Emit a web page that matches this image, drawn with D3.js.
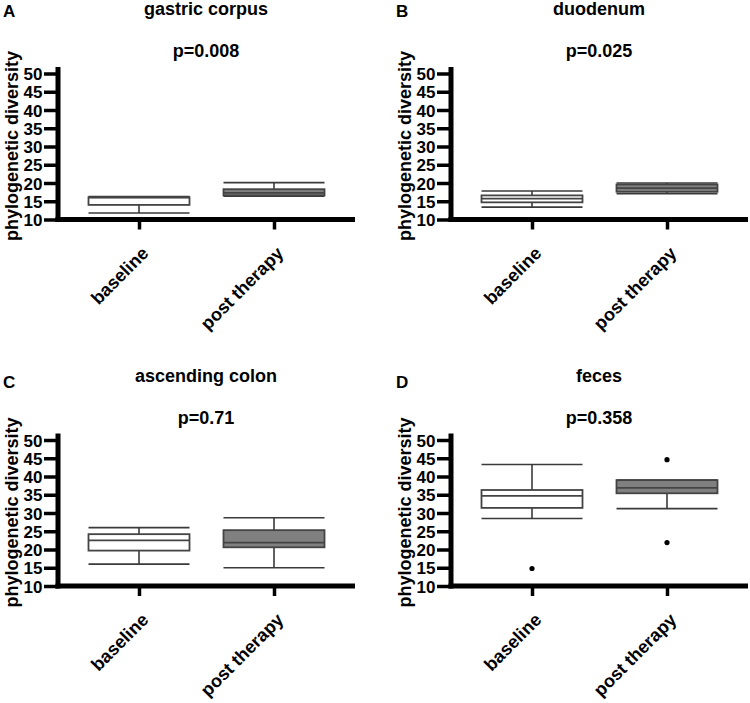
<!DOCTYPE html>
<html>
<head>
<meta charset="utf-8">
<script src="https://cdn.jsdelivr.net/npm/d3@7"></script>
<style>
  body { margin: 0; background: #fff; }
  text { font-family: Arial, "Liberation Sans", sans-serif; font-weight: bold; fill: #000; }
</style>
</head>
<body>
<div id="chart"></div>
<script>
const groups = ["baseline", "post therapy"];
const yTicks = [10, 15, 20, 25, 30, 35, 40, 45, 50];
const panelLetters = ["A", "B", "C", "D"];
const sites = ["gastric corpus", "duodenum", "ascending colon", "feces"];
const pLabels = ["p=0.008", "p=0.025", "p=0.71", "p=0.358"];

// [min, q1, median, q3, max] per panel
const baselineStats = [
    [11.8, 14.0, 16.0, 16.1, 16.3],
    [13.4, 14.7, 15.7, 16.6, 17.8],
    [16.0, 19.7, 22.5, 24.2, 26.0],
    [28.5, 31.4, 34.7, 36.3, 43.3]
];
const postStats = [
    [16.4, 16.6, 17.3, 18.3, 20.1],
    [17.1, 17.6, 18.6, 19.6, 20.0],
    [15.0, 20.6, 21.9, 25.3, 28.7],
    [31.2, 35.4, 36.9, 39.0, 39.0]
];
const baselineOutliers = [[], [], [], [14.8]];
const postOutliers = [[], [], [], [44.6, 21.9]];

const fills = { "baseline": "#ffffff", "post therapy": "#808080" };

const width = 750, height = 703;
const svg = d3.select("#chart").append("svg")
    .attr("width", width)
    .attr("height", height);

const offsets = [[0, 0], [393, 0], [0, 366.5], [393, 366.5]];
const letterY = [17, 17, 388, 388];

const x = d3.scalePoint().domain(groups).range([58, 355]).padding(0.6);
const y = d3.scaleLinear().domain([10, 50]).range([219.5, 73.5]);
const boxW = 101;

panelLetters.forEach((letter, i) => {
    const [ox, oy] = offsets[i];
    const g = svg.append("g").attr("transform", `translate(${ox},${oy})`);

    svg.append("text")
        .attr("x", ox + 3)
        .attr("y", letterY[i])
        .style("font-size", "17px")
        .text(letter);

    g.append("text")
        .attr("x", 206).attr("y", 15)
        .attr("text-anchor", "middle")
        .style("font-size", "18px")
        .text(sites[i]);

    g.append("text")
        .attr("x", 206).attr("y", 57)
        .attr("text-anchor", "middle")
        .style("font-size", "18px")
        .text(pLabels[i]);

    g.append("text")
        .attr("transform", `translate(17.5,146) rotate(-90)`)
        .attr("text-anchor", "middle")
        .style("font-size", "18px")
        .text("phylogenetic diversity");

    // boxes
    const stats = [baselineStats[i], postStats[i]];
    const outs = [baselineOutliers[i], postOutliers[i]];
    groups.forEach((grp, k) => {
        const s = stats[k];
        const cx = x(grp);
        const bg = g.append("g");
        bg.append("line")
            .attr("x1", cx).attr("x2", cx)
            .attr("y1", y(s[0])).attr("y2", y(s[4]))
            .attr("stroke", "#3a3a3a").attr("stroke-width", 1.6);
        [s[0], s[4]].forEach(v => {
            bg.append("line")
                .attr("x1", cx - boxW / 2).attr("x2", cx + boxW / 2)
                .attr("y1", y(v)).attr("y2", y(v))
                .attr("stroke", "#3a3a3a").attr("stroke-width", 1.6);
        });
        bg.append("rect")
            .attr("x", cx - boxW / 2)
            .attr("y", y(s[3]))
            .attr("width", boxW)
            .attr("height", y(s[1]) - y(s[3]))
            .attr("fill", fills[grp])
            .attr("stroke", "#444").attr("stroke-width", 1.8);
        bg.append("line")
            .attr("x1", cx - boxW / 2).attr("x2", cx + boxW / 2)
            .attr("y1", y(s[2])).attr("y2", y(s[2]))
            .attr("stroke", "#444").attr("stroke-width", 1.8);
        bg.selectAll("circle")
            .data(outs[k])
            .enter()
            .append("circle")
            .attr("cx", cx)
            .attr("cy", d => y(d))
            .attr("r", 2.6)
            .attr("fill", "#000");
    });

    // axes
    const yAxis = g.append("g")
        .attr("transform", "translate(58,0)")
        .call(d3.axisLeft(y).tickValues(yTicks).tickSize(14).tickPadding(1.5).tickSizeOuter(0));
    yAxis.select(".domain").remove();
    yAxis.selectAll(".tick line").attr("stroke", "#000").attr("stroke-width", 3.5);
    yAxis.selectAll(".tick text").style("font-size", "17px").attr("dy", "0.36em");
    g.append("line")
        .attr("x1", 58).attr("x2", 58)
        .attr("y1", 67).attr("y2", y(10) + 2.5)
        .attr("stroke", "#000").attr("stroke-width", 5);

    const xAxis = g.append("g")
        .attr("transform", `translate(0,${y(10)})`)
        .call(d3.axisBottom(x).tickSize(10).tickSizeOuter(0));
    xAxis.select(".domain").remove();
    xAxis.selectAll(".tick line").attr("stroke", "#000").attr("stroke-width", 3.5);
    xAxis.selectAll(".tick text")
        .style("font-size", "18px")
        .attr("text-anchor", "end")
        .attr("y", 0).attr("dy", 0)
        .attr("transform", "translate(10,35) rotate(-45)");
    g.append("line")
        .attr("x1", 55.5).attr("x2", 355)
        .attr("y1", y(10)).attr("y2", y(10))
        .attr("stroke", "#000").attr("stroke-width", 5);
});
</script>
</body>
</html>
